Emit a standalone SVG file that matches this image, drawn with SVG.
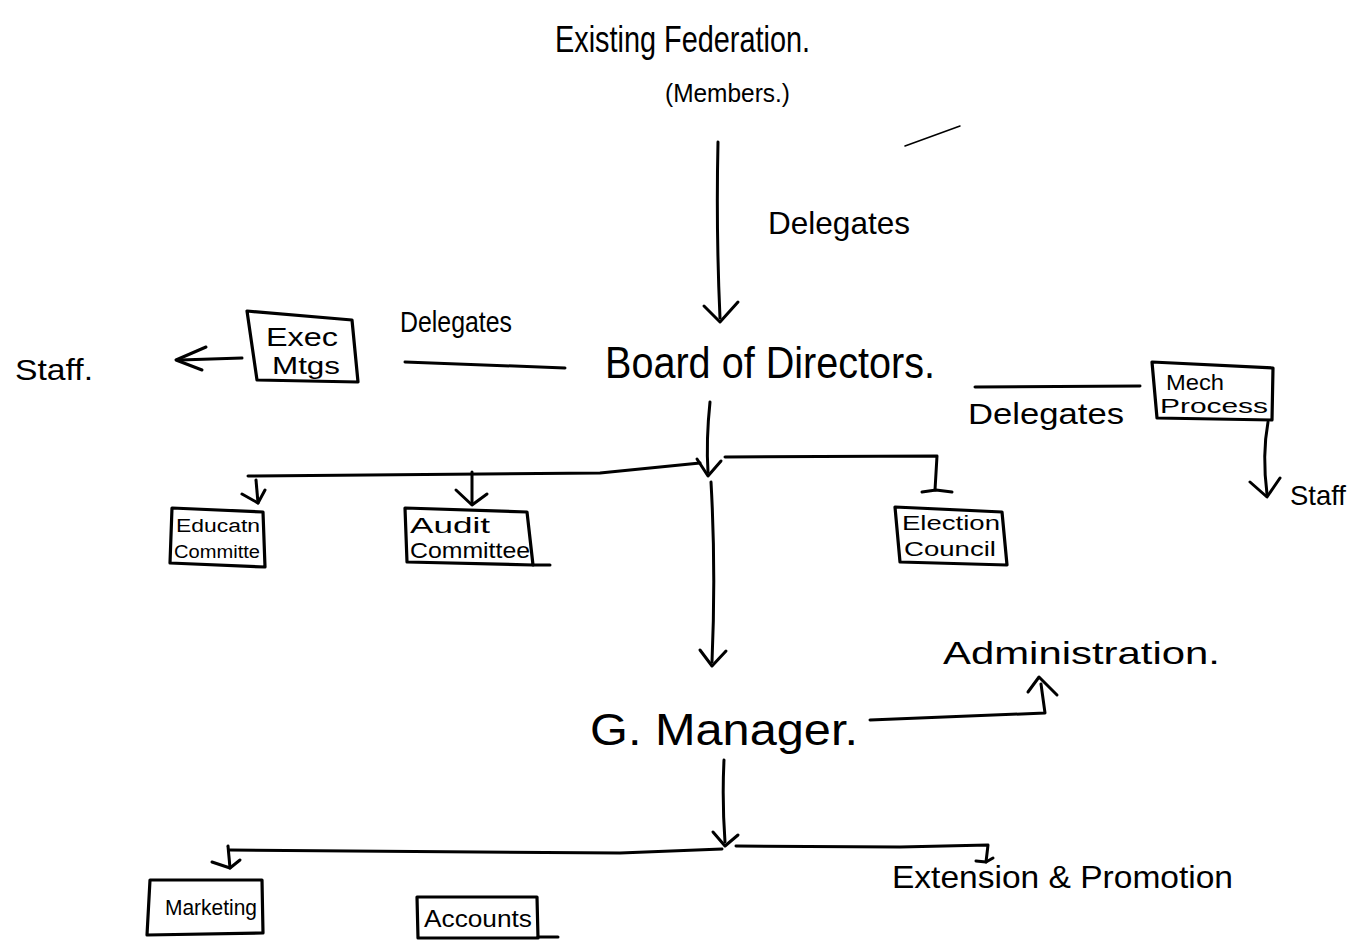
<svg xmlns="http://www.w3.org/2000/svg" width="1352" height="944" viewBox="0 0 1352 944">
  <style>
    .ink { fill: none; stroke: #000; stroke-width: 3; stroke-linecap: round; stroke-linejoin: round; }
    .thin { fill: none; stroke: #000; stroke-width: 1.5; stroke-linecap: round; }
    .box { fill: none; stroke: #000; stroke-width: 3.2; stroke-linejoin: round; }
    .hw { font-family: "Liberation Sans", "DejaVu Sans", sans-serif; fill: #000; }
  </style>
  <rect width="1352" height="944" fill="#fff"/>

  <!-- Connectors -->
  <g id="connectors">
    <!-- Federation to Board -->
    <path class="ink" d="M718,142 Q716,230 720,318"/>
    <path class="ink" d="M704,306 L720,322 L738,302"/>
    <!-- Board to Exec Mtgs (left) -->
    <path class="ink" d="M405,362 L565,368"/>
    <path class="ink" d="M242,358 L180,360"/>
    <path class="ink" d="M206,347 L176,360 L202,370"/>
    <!-- Board to Mech Process (right) -->
    <path class="ink" d="M975,387 L1140,386"/>
    <path class="ink" d="M1268,422 Q1262,455 1267,494"/>
    <path class="ink" d="M1250,482 L1267,497 L1280,478"/>
    <!-- Board down to committees -->
    <path class="ink" d="M710,402 Q706,440 708,472"/>
    <path class="ink" d="M697,459 L708,476 L721,461"/>
    <path class="ink" d="M248,476 L600,473 L700,463"/>
    <path class="ink" d="M725,457 L937,456 L935,490"/>
    <path class="ink" d="M922,492 L936,490 L952,492"/>
    <path class="ink" d="M256,480 L258,503"/>
    <path class="ink" d="M242,494 L258,503 L265,490"/>
    <path class="ink" d="M472,472 L472,503"/>
    <path class="ink" d="M456,490 L472,505 L487,494"/>
    <!-- Board down to G. Manager -->
    <path class="ink" d="M711,482 Q716,570 712,662"/>
    <path class="ink" d="M700,650 L712,666 L726,651"/>
    <!-- G. Manager to Administration -->
    <path class="ink" d="M870,720 L1045,713 L1041,684"/>
    <path class="ink" d="M1028,692 L1039,677 L1057,695"/>
    <!-- G. Manager down to departments -->
    <path class="ink" d="M724,760 Q722,800 725,842"/>
    <path class="ink" d="M713,832 L725,846 L738,835"/>
    <path class="ink" d="M230,850 L620,853 L722,849"/>
    <path class="ink" d="M736,846 L900,847 L988,845 L986,862"/>
    <path class="ink" d="M976,861 L986,862 L993,858"/>
    <path class="ink" d="M228,846 L230,868"/>
    <path class="ink" d="M212,862 L230,868 L240,860"/>
    <!-- stray stroke -->
    <path class="thin" d="M905,146 L960,126"/>
  </g>

  <!-- Nodes -->
  <g id="federation">
    <text class="hw" x="555" y="52" font-size="36" textLength="255" lengthAdjust="spacingAndGlyphs">Existing Federation.</text>
    <text class="hw" x="665" y="102" font-size="26" textLength="125" lengthAdjust="spacingAndGlyphs">(Members.)</text>
  </g>

  <g id="label-delegates-top">
    <text class="hw" x="768" y="234" font-size="32" textLength="142" lengthAdjust="spacingAndGlyphs">Delegates</text>
  </g>

  <g id="board">
    <text class="hw" x="605" y="378" font-size="44" textLength="330" lengthAdjust="spacingAndGlyphs">Board of Directors.</text>
  </g>

  <g id="label-delegates-left">
    <text class="hw" x="400" y="332" font-size="30" textLength="112" lengthAdjust="spacingAndGlyphs">Delegates</text>
  </g>

  <g id="exec-mtgs">
    <path class="box" d="M247,311 L352,320 L358,382 L257,380 Z"/>
    <text class="hw" x="266" y="346" font-size="26" textLength="72" lengthAdjust="spacingAndGlyphs">Exec</text>
    <text class="hw" x="272" y="374" font-size="24" textLength="68" lengthAdjust="spacingAndGlyphs">Mtgs</text>
  </g>

  <g id="staff-left">
    <text class="hw" x="15" y="380" font-size="30" textLength="78" lengthAdjust="spacingAndGlyphs">Staff.</text>
  </g>

  <g id="label-delegates-right">
    <text class="hw" x="968" y="424" font-size="30" textLength="156" lengthAdjust="spacingAndGlyphs">Delegates</text>
  </g>

  <g id="mech-process">
    <path class="box" d="M1152,362 L1273,368 L1272,420 L1157,418 Z"/>
    <text class="hw" x="1166" y="390" font-size="22" textLength="58" lengthAdjust="spacingAndGlyphs">Mech</text>
    <text class="hw" x="1160" y="413" font-size="20" textLength="108" lengthAdjust="spacingAndGlyphs">Process</text>
  </g>

  <g id="staff-right">
    <text class="hw" x="1290" y="505" font-size="28" textLength="56" lengthAdjust="spacingAndGlyphs">Staff</text>
  </g>

  <g id="education-committee">
    <path class="box" d="M172,508 L263,512 L265,567 L170,563 Z"/>
    <text class="hw" x="176" y="532" font-size="18" textLength="84" lengthAdjust="spacingAndGlyphs">Educatn</text>
    <text class="hw" x="174" y="558" font-size="18" textLength="86" lengthAdjust="spacingAndGlyphs">Committe</text>
  </g>

  <g id="audit-committee">
    <path class="box" d="M405,508 L527,512 L533,565 L407,562 Z"/>
    <path class="ink" d="M533,565 L550,565"/>
    <text class="hw" x="410" y="533" font-size="22" textLength="80" lengthAdjust="spacingAndGlyphs">Audit</text>
    <text class="hw" x="410" y="558" font-size="22" textLength="120" lengthAdjust="spacingAndGlyphs">Committee</text>
  </g>

  <g id="election-council">
    <path class="box" d="M895,507 L1002,512 L1007,565 L900,562 Z"/>
    <text class="hw" x="902" y="530" font-size="20" textLength="98" lengthAdjust="spacingAndGlyphs">Election</text>
    <text class="hw" x="904" y="556" font-size="20" textLength="92" lengthAdjust="spacingAndGlyphs">Council</text>
  </g>

  <g id="administration">
    <text class="hw" x="943" y="664" font-size="32" textLength="277" lengthAdjust="spacingAndGlyphs">Administration.</text>
  </g>

  <g id="g-manager">
    <text class="hw" x="590" y="745" font-size="44" textLength="268" lengthAdjust="spacingAndGlyphs">G. Manager.</text>
  </g>

  <g id="marketing">
    <path class="box" d="M150,880 L262,880 L263,933 L147,935 Z"/>
    <text class="hw" x="165" y="915" font-size="22" textLength="92" lengthAdjust="spacingAndGlyphs">Marketing</text>
  </g>

  <g id="accounts">
    <path class="box" d="M417,897 L537,897 L538,938 L418,938 Z"/>
    <path class="ink" d="M538,937 L558,937"/>
    <text class="hw" x="424" y="927" font-size="24" textLength="108" lengthAdjust="spacingAndGlyphs">Accounts</text>
  </g>

  <g id="extension-promotion">
    <text class="hw" x="892" y="888" font-size="32" textLength="341" lengthAdjust="spacingAndGlyphs">Extension &amp; Promotion</text>
  </g>
</svg>
